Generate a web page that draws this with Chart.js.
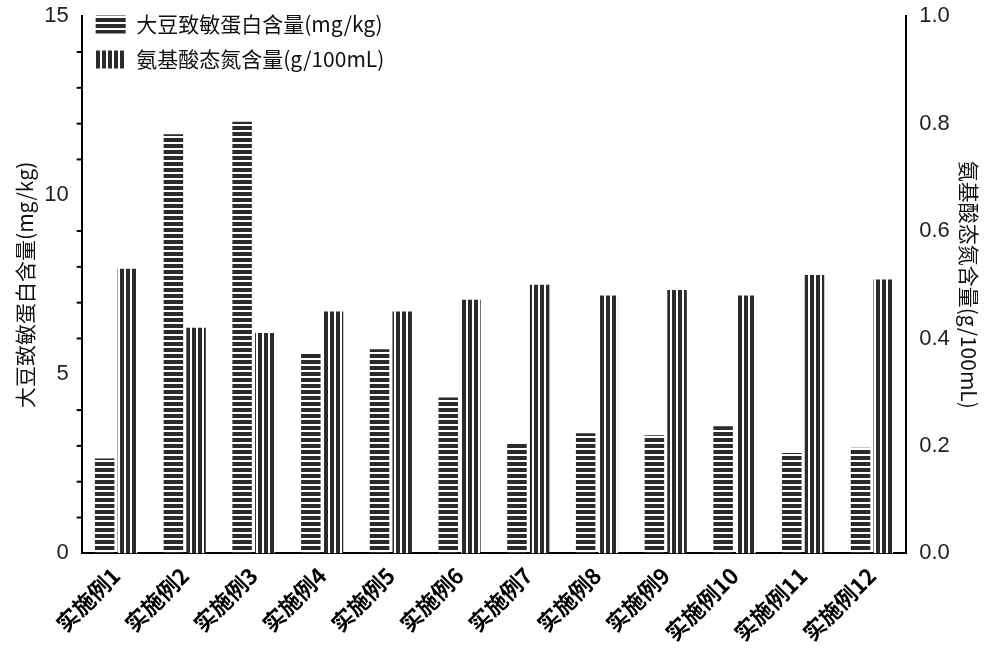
<!DOCTYPE html><html><head><meta charset="utf-8">
<script src="https://cdn.jsdelivr.net/npm/chart.js@4"></script>
<style>body{margin:0;background:#fff}#w{width:1000px;height:649px}</style></head><body><div id="w"><canvas id="c"></canvas></div>
<script>
const categories=['实施例1','实施例2','实施例3','实施例4','实施例5','实施例6','实施例7','实施例8','实施例9','实施例10','实施例11','实施例12'];
const allergen=[2.65,11.7,12.05,5.6,5.7,4.35,3.05,3.35,3.3,3.55,2.8,2.95];
const aminoN=[0.53,0.42,0.41,0.45,0.45,0.472,0.50,0.48,0.49,0.48,0.518,0.51];
const leftTicks=[0,5,10,15];
const rightTicks=[0.0,0.2,0.4,0.6,0.8,1.0];
function pat(horiz){const c=document.createElement('canvas');c.width=6;c.height=6;const x=c.getContext('2d');x.fillStyle='#2b2b2b';x.fillRect(0,0,6,6);x.fillStyle='#fff';if(horiz)x.fillRect(0,4,6,2);else x.fillRect(4,0,2,6);return x.createPattern(c,'repeat');}
const minor={id:'minor',afterDraw(ch){const ctx=ch.ctx;ctx.save();ctx.strokeStyle='#000';ctx.lineWidth=2;
 const L=ch.scales.y;
 for(let v=0;v<=15;v++){if(v%5===0)continue;const p=L.getPixelForValue(v);ctx.beginPath();ctx.moveTo(L.right-5,p);ctx.lineTo(L.right,p);ctx.stroke();}
 ctx.restore();}};
new Chart(document.getElementById('c'),{type:'bar',data:{labels:categories,datasets:[
{label:'大豆致敏蛋白含量(mg/kg)',data:allergen,backgroundColor:pat(true),yAxisID:'y'},
{label:'氨基酸态氮含量(g/100mL)',data:aminoN,backgroundColor:pat(false),yAxisID:'y1'}]},
options:{responsive:true,maintainAspectRatio:false,animation:false,layout:{padding:{top:6,right:14,left:8,bottom:0}},
datasets:{bar:{categoryPercentage:0.66,barPercentage:0.86}},
plugins:{legend:{position:'chartArea',align:'start',labels:{boxWidth:30,boxHeight:18,font:{size:21,family:'Noto Sans CJK SC'},color:'#111',padding:14}},tooltip:{enabled:false}},
scales:{
x:{grid:{display:false,drawTicks:true,tickLength:6,tickColor:'#000'},border:{color:'#000',width:2},ticks:{maxRotation:45,minRotation:45,color:'#000',font:{size:22,weight:'bold',family:'Noto Sans CJK SC'}}},
y:{position:'left',min:0,max:15,afterBuildTicks:s=>{s.ticks=leftTicks.map(v=>({value:v}))},grid:{display:false,drawTicks:true,tickLength:10,tickColor:'#000',tickWidth:2},border:{color:'#000',width:2},ticks:{color:'#222',font:{size:22,family:'Liberation Sans'}},title:{display:true,text:'大豆致敏蛋白含量(mg/kg)',color:'#111',font:{size:21,family:'Noto Sans CJK SC'}}},
y1:{position:'right',min:0,max:1,afterBuildTicks:s=>{s.ticks=rightTicks.map(v=>({value:v}))},grid:{display:false,drawTicks:true,tickLength:10,tickColor:'#000',tickWidth:2},border:{color:'#000',width:2},ticks:{color:'#222',font:{size:22,family:'Liberation Sans'},callback:v=>v.toFixed(1)},title:{display:true,text:'氨基酸态氮含量(g/100mL)',color:'#111',font:{size:21,family:'Noto Sans CJK SC'}}}
}},plugins:[minor]});
</script></body></html>
